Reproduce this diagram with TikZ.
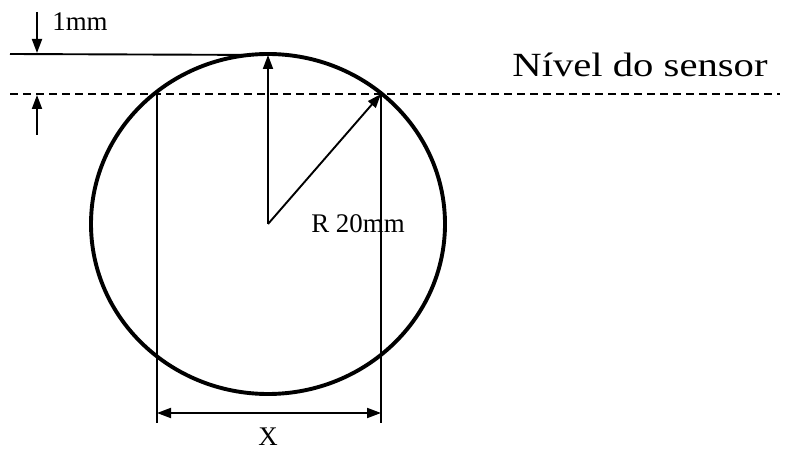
\documentclass[tikz,border=0pt]{standalone}
\usepackage{fontspec}
\usepackage{graphicx}
\setmainfont{Liberation Serif}
\usetikzlibrary{arrows.meta}
\begin{document}
\begin{tikzpicture}[x=1bp,y=-1bp,
  thinline/.style={line width=1.9bp},
  arr/.style={thinline,-{Triangle[length=14bp,width=10bp]}},
  darr/.style={thinline,{Triangle[length=14bp,width=10bp]}-{Triangle[length=14bp,width=10bp]}},
  dashline/.style={line width=1.9bp,dash pattern=on 8bp off 5bp},
  lbl/.style={inner sep=0pt,font=\fontsize{27}{31}\selectfont}]
\useasboundingbox (0,0) rectangle (785,451);
% coordinates
\coordinate (C) at (268,224);
\coordinate (T) at (268,55);
\coordinate (P) at (381,94);
\coordinate (Q) at (157,94);
\coordinate (SL) at (10,54);
\coordinate (DL) at (10,94);
\coordinate (DR) at (780,94);
\coordinate (QB) at (157,423);
\coordinate (PB) at (381,423);
\coordinate (XA) at (157,413);
\coordinate (XB) at (381,413);
\coordinate (A1s) at (37,12);
\coordinate (A1e) at (37,53);
\coordinate (A2s) at (37,135);
\coordinate (A2e) at (37,95);
% circle
\draw[line width=3.9bp] (C) ellipse [x radius=177, y radius=170];
% reference lines
\draw[thinline] (SL) -- (T);
\draw[dashline] (DL) -- (DR);
% radius arrows
\draw[arr] (C) -- (T);
\draw[arr] (C) -- (P);
% vertical extension lines
\draw[thinline] (Q) -- (QB);
\draw[thinline] (P) -- (PB);
% X dimension
\draw[darr] (XA) -- (XB);
% 1mm arrows
\draw[arr] (A1s) -- (A1e);
\draw[arr] (A2s) -- (A2e);
% labels
\node[lbl] (mm) at (80,22) {1mm};
\node[lbl] (R) at (358,224) {R 20mm};
\node[lbl] (X) at (268,437) {X};
\node[inner sep=0pt,font=\fontsize{34}{40}\selectfont] (niv) at (640,65) {\scalebox{1.2}[1]{Nível do sensor}};
\end{tikzpicture}
\end{document}
